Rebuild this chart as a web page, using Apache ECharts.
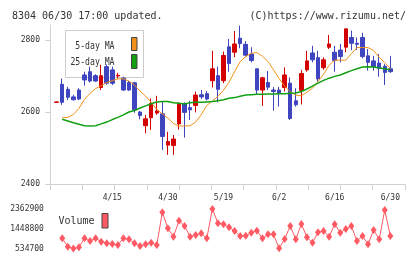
<!DOCTYPE html>
<html><head><meta charset="utf-8">
<script src="https://cdn.jsdelivr.net/npm/echarts@6/dist/echarts.min.js"></script>
<style>html,body{margin:0;padding:0;background:#fff}#c{width:420px;height:259px}</style>
</head><body><div id="c"></div>
<script>
// ---- data ----
const dates = ['4/1','4/2','4/3','4/4','4/7','4/8','4/9','4/10','4/11','4/14','4/15','4/16','4/17','4/18','4/21','4/22','4/23','4/24','4/25','4/28','4/30',
  '5/2','5/7','5/8','5/9','5/12','5/13','5/14','5/15','5/16','5/19','5/20','5/21','5/22','5/23','5/26','5/27','5/28','5/29','5/30','6/2',
  '6/3','6/4','6/5','6/6','6/9','6/10','6/11','6/12','6/13','6/16','6/17','6/18','6/19','6/20','6/23','6/24','6/25','6/26','6/27','6/30'];
const openP  = [2627,2677,2663,2642,2661,2703,2712,2701,2668,2726,2717,2700,2694,2682,2681,2600,2562,2584,2597,2595,2508,2507,2567,2622,2612,2618,2648,2651,2687,2701,2687,2781,2766,2805,2788,2761,2720,2661,2682,2661,2661,2668,2680,2631,2660,2717,2764,2751,2723,2780,2766,2772,2780,2807,2791,2807,2756,2742,2736,2727,2720];
const closeP = [2628,2627,2641,2634,2636,2689,2686,2686,2701,2680,2680,2702,2661,2661,2606,2590,2581,2624,2603,2532,2518,2525,2622,2599,2606,2647,2642,2636,2720,2663,2757,2735,2789,2790,2758,2743,2661,2695,2669,2657,2652,2703,2582,2620,2707,2742,2745,2692,2745,2789,2743,2754,2831,2791,2788,2754,2738,2726,2721,2710,2712];
const lowP   = [2626,2620,2633,2632,2633,2673,2682,2684,2661,2676,2675,2693,2659,2659,2598,2580,2541,2550,2592,2495,2481,2481,2551,2529,2578,2599,2636,2632,2668,2627,2680,2712,2752,2777,2754,2738,2650,2617,2661,2604,2615,2657,2578,2615,2621,2712,2738,2684,2717,2775,2712,2738,2766,2772,2772,2749,2715,2715,2698,2675,2709];
const highP  = [2629,2693,2670,2648,2666,2712,2726,2705,2731,2732,2726,2709,2698,2686,2684,2603,2592,2638,2645,2629,2545,2536,2627,2627,2631,2657,2661,2658,2770,2726,2768,2803,2825,2840,2797,2780,2720,2698,2714,2669,2670,2724,2696,2666,2717,2770,2784,2770,2752,2814,2784,2789,2831,2826,2807,2820,2775,2756,2761,2733,2756];
const ma5  = [null,2584,2585,2593,2610,2635,2652,2665,2673,2682,2687,2692,2692,2686,2675,2658,2644,2627,2607,2595,2583,2568,2561,2561,2562,2572,2593,2618,2631,2643,2661,2683,2712,2740,2754,2763,2765,2755,2740,2717,2693,2672,2656,2647,2645,2655,2666,2685,2705,2730,2744,2744,2744,2762,2779,2779,2779,2771,2752,2737,2721];
const ma25 = [null,2580,2575,2570,2566,2562,2561,2562,2567,2572,2579,2585,2592,2600,2604,2611,2617,2623,2628,2629,2629,2626,2624,2622,2626,2627,2627,2628,2629,2631,2634,2638,2640,2644,2647,2648,2649,2649,2650,2650,2651,2651,2652,2653,2657,2664,2672,2680,2688,2694,2699,2703,2709,2715,2720,2725,2726,2725,2722,2720,2717];
const volume = [null,1007000,618000,534700,590000,1007000,882000,1007000,850000,775000,743000,697000,1007000,960000,775000,650000,729000,803000,697000,2210000,1470000,1081000,1821000,1576000,1081000,1159000,1238000,1007000,2362900,1701000,1655000,1516000,1345000,1113000,1127000,1266000,1358000,1007000,1192000,1192000,544000,974000,1576000,960000,1669000,1053000,803000,1284000,1345000,1081000,1655000,1266000,1437000,1576000,882000,1113000,729000,1391000,960000,2316000,1113000];
const priceTicks = [2400, 2600, 2800];
const volTicks = [534700, 1448800, 2362900];
const dateLabels = ['4/15','4/30','5/19','6/2','6/16','6/30'];

// ---- styles ----
const F = 'DejaVu Sans Mono';
const TXT = '#333';
const AX = '#d2d2d2';
const RED = '#d40000', BLUE = '#3f44bf', ORANGE = '#f39019', GREEN = '#12a012', VOL = '#ff5a64';
const plain = v => String(Math.round(v));

const candles = dates.map((d, i) => [openP[i], closeP[i], lowP[i], highP[i]]);
const chart = echarts.init(document.getElementById('c'), null, {renderer: 'canvas'});
chart.setOption({
  animation: false,
  title: [
    {text: '8304 06/30 17:00 updated.', left: 7, top: 6, textStyle: {fontFamily: F, fontSize: 10, fontWeight: 'normal', color: TXT}},
    {text: '(C)https://www.rizumu.net/', right: 9, top: 6, textStyle: {fontFamily: F, fontSize: 10, fontWeight: 'normal', color: TXT}}
  ],
  grid: [
    {left: 50, top: 25, width: 355, height: 159},
    {left: 53.9, top: 25, width: 339.2, height: 159},
    {left: 53.9, top: 209, width: 339.2, height: 39.5}
  ],
  xAxis: [
    {type: 'value', gridIndex: 0, min: 0, max: 11, interval: 1,
     axisLine: {show: true, lineStyle: {color: AX}}, axisTick: {show: true, length: 6, lineStyle: {color: AX}},
     axisLabel: {show: false}, splitLine: {show: false}},
    {type: 'category', gridIndex: 1, data: dates, boundaryGap: true,
     axisLine: {show: false}, axisTick: {show: false}, splitLine: {show: false},
     axisLabel: {interval: (i, v) => dateLabels.includes(v), fontFamily: F, fontSize: 8, color: TXT, margin: 10}},
    {type: 'category', gridIndex: 2, data: dates, boundaryGap: true, show: false}
  ],
  yAxis: [
    {type: 'value', gridIndex: 0, min: 2400, max: 2841.7,
     axisLine: {show: true, lineStyle: {color: AX}},
     axisTick: {show: true, length: 5, customValues: priceTicks, lineStyle: {color: AX}},
     axisLabel: {customValues: priceTicks, formatter: plain, fontFamily: F, fontSize: 8, color: TXT, margin: 10},
     splitLine: {show: false}},
    {type: 'value', gridIndex: 1, min: 2400, max: 2841.7, show: false, splitLine: {show: false}},
    {type: 'value', gridIndex: 2, min: 534700, max: 2362900,
     axisLine: {show: false}, axisTick: {show: false}, splitLine: {show: false},
     axisLabel: {customValues: volTicks, formatter: plain, fontFamily: F, fontSize: 8, color: TXT, margin: 10}}
  ],
  series: [
    {type: 'candlestick', xAxisIndex: 1, yAxisIndex: 1, data: candles, barWidth: 4,
     itemStyle: {color: RED, color0: BLUE, borderColor: RED, borderColor0: BLUE, borderWidth: 1}},
    {type: 'line', xAxisIndex: 1, yAxisIndex: 1, data: ma5, showSymbol: false, symbol: 'none',
     lineStyle: {color: ORANGE, width: 1}, itemStyle: {color: ORANGE}},
    {type: 'line', xAxisIndex: 1, yAxisIndex: 1, data: ma25, showSymbol: false, symbol: 'none',
     lineStyle: {color: GREEN, width: 1.5}, itemStyle: {color: GREEN}},
    {type: 'line', xAxisIndex: 2, yAxisIndex: 2, data: volume, symbol: 'diamond', symbolSize: [6, 8],
     showSymbol: true, showAllSymbol: true,
     lineStyle: {color: VOL, width: 1}, itemStyle: {color: VOL}}
  ],
  graphic: [
    {type: 'rect', z: 0, shape: {x: 65.5, y: 30.5, width: 78, height: 47}, style: {fill: 'none', stroke: '#cccccc', lineWidth: 1}},
    {type: 'text', z: 0, x: 114.5, y: 46, scaleX: 0.74, style: {text: '5-day MA', fill: TXT, fontFamily: F, fontSize: 11, align: 'right', verticalAlign: 'middle'}},
    {type: 'text', z: 0, x: 114.5, y: 62.5, scaleX: 0.74, style: {text: '25-day MA', fill: TXT, fontFamily: F, fontSize: 11, align: 'right', verticalAlign: 'middle'}},
    {type: 'rect', z: 0, shape: {x: 131.5, y: 37.5, width: 5.5, height: 13}, style: {fill: ORANGE, stroke: '#444', lineWidth: 1}},
    {type: 'rect', z: 0, shape: {x: 131.5, y: 54.5, width: 5.5, height: 14}, style: {fill: GREEN, stroke: '#444', lineWidth: 1}},
    {type: 'text', z: 0, x: 58.5, y: 221.5, style: {text: 'Volume', fill: TXT, fontFamily: F, fontSize: 10, align: 'left', verticalAlign: 'middle'}},
    {type: 'rect', z: 0, shape: {x: 102, y: 213.5, width: 6, height: 14.5}, style: {fill: VOL, stroke: '#444', lineWidth: 1}}
  ]
});
</script>
</body></html>
